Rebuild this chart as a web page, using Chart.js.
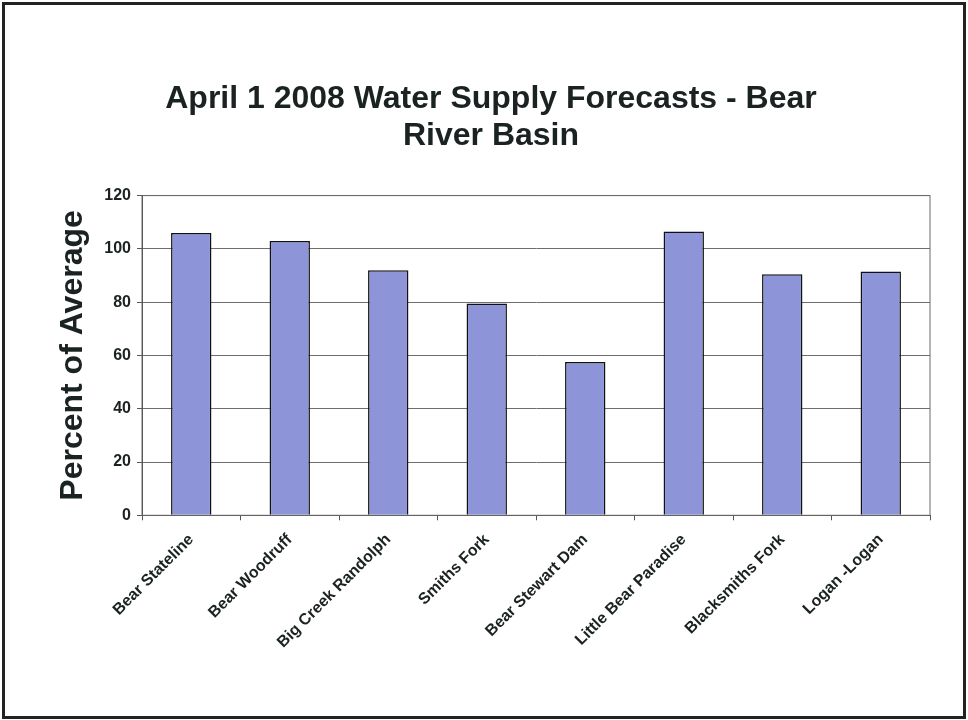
<!DOCTYPE html>
<html>
<head>
<meta charset="utf-8">
<script src="https://cdn.jsdelivr.net/npm/chart.js@4"></script>
<style>
  html, body { margin: 0; padding: 0; background: #fff; }
  #wrap { width: 968px; height: 720px; position: relative; }
</style>
</head>
<body>
<div id="wrap"><canvas id="chartBar"></canvas></div>
<script>
const stations = ['Bear Stateline', 'Bear Woodruff', 'Big Creek Randolph', 'Smiths Fork',
    'Bear Stewart Dam', 'Little Bear Paradise', 'Blacksmiths Fork', 'Logan -Logan'];
const percentOfAverage = [106, 103, 92, 79.5, 57.5, 106.5, 90.5, 91.5];
const titleLines = ['April 1 2008 Water Supply Forecasts - Bear', 'River Basin'];

const ink = '#1b2222';

// frame round the page and a box round the plot area
const framePlugin = {
    id: 'frame',
    beforeDraw(chart) {
        const ctx = chart.ctx;
        ctx.save();
        ctx.fillStyle = '#fff';
        ctx.fillRect(0, 0, chart.width, chart.height);
        ctx.restore();
    },
    afterDraw(chart) {
        const ctx = chart.ctx;
        const a = chart.chartArea;
        ctx.save();
        ctx.strokeStyle = '#6a6a6a';
        ctx.lineWidth = 1;
        ctx.strokeRect(a.left, a.top, a.right - a.left, a.bottom - a.top);
        ctx.strokeStyle = '#222';
        ctx.lineWidth = 3;
        ctx.strokeRect(3.5, 3.5, chart.width - 7, chart.height - 6);
        ctx.restore();
    }
};

const data = {
    labels: stations,
    datasets: [{
        data: percentOfAverage,
        backgroundColor: '#8d95d8',
        borderColor: '#111',
        borderWidth: 1.5,
        borderSkipped: 'bottom',
        categoryPercentage: 1,
        barPercentage: 0.41
    }]
};

const config = {
    type: 'bar',
    data,
    options: {
        responsive: true,
        maintainAspectRatio: false,
        animation: false,
        layout: {
            padding: {top: 60, left: 52, right: 38, bottom: 58}
        },
        scales: {
            y: {
                min: 0,
                max: 120,
                ticks: {
                    stepSize: 20,
                    padding: 6,
                    color: ink,
                    font: {family: 'Liberation Sans', size: 16, weight: 'bold'}
                },
                grid: {
                    color: '#6e6e6e',
                    tickLength: 5,
                    tickColor: '#555'
                },
                border: {color: '#444'},
                title: {
                    display: true,
                    text: 'Percent of Average',
                    color: ink,
                    padding: {top: 2, bottom: 0},
                    font: {family: 'Liberation Sans', size: 32, weight: 'bold'}
                },
                afterFit(scale) { scale.width = 90; }
            },
            x: {
                ticks: {
                    minRotation: 45,
                    maxRotation: 45,
                    padding: 10,
                    color: ink,
                    font: {family: 'Liberation Sans', size: 16, weight: 'bold'}
                },
                grid: {
                    offset: true,
                    drawOnChartArea: false,
                    tickLength: 5,
                    tickColor: '#555'
                },
                border: {color: '#444'}
            }
        },
        plugins: {
            legend: {display: false},
            tooltip: {enabled: false},
            title: {
                display: true,
                text: titleLines,
                color: ink,
                padding: {top: 21, bottom: 41},
                font: {family: 'Liberation Sans', size: 32, weight: 'bold', lineHeight: 1.15}
            }
        }
    },
    plugins: [framePlugin]
};

var chartBar = new Chart(document.getElementById('chartBar'), config);
</script>
</body>
</html>
